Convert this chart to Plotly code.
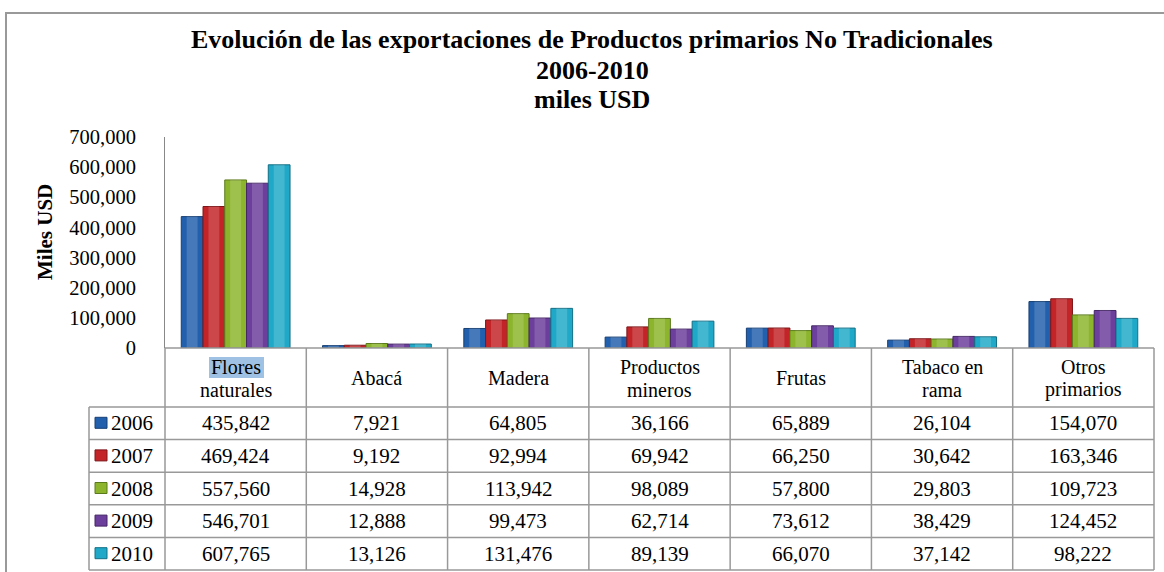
import plotly.graph_objects as go

categories = ["Flores naturales", "Abacá", "Madera", "Productos mineros", "Frutas", "Tabaco en rama", "Otros primarios"]
category_lines = [["Flores", "naturales"], ["Abacá"], ["Madera"], ["Productos", "mineros"], ["Frutas"], ["Tabaco en", "rama"], ["Otros", "primarios"]]
years = ["2006", "2007", "2008", "2009", "2010"]
v2006 = [435842, 7921, 64805, 36166, 65889, 26104, 154070]
v2007 = [469424, 9192, 92994, 69942, 66250, 30642, 163346]
v2008 = [557560, 14928, 113942, 98089, 57800, 29803, 109723]
v2009 = [546701, 12888, 99473, 62714, 73612, 38429, 124452]
v2010 = [607765, 13126, 131476, 89139, 66070, 37142, 98222]
series = [v2006, v2007, v2008, v2009, v2010]
y_ticks = [0, 100000, 200000, 300000, 400000, 500000, 600000, 700000]
title_lines = ["Evolución de las exportaciones de Productos primarios No Tradicionales", "2006-2010", "miles USD"]
y_title = "Miles USD"

colors = ["#2260ad", "#c22428", "#8cb52d", "#6c3f9c", "#1fa8c8"]
edges = ["#163f73", "#7e1619", "#5b7a1c", "#452766", "#136e84"]

W, H = 1164, 572
def px(x): return x / W
def py(y): return 1 - y / H

FONT = "Liberation Serif"
X0, X1 = 165, 1154
Y_TOP, Y_ZERO = 137, 348

GROUP = 0.77
BW = GROUP / len(years)

fig = go.Figure()
for i, (yr, vals, c, e) in enumerate(zip(years, series, colors, edges)):
    off = -GROUP / 2 + i * BW
    fig.add_trace(go.Bar(x=categories, y=vals, name=yr, width=BW, offset=off,
                         marker=dict(color=c, line=dict(color=e, width=1)), showlegend=False))
    # soft highlight to suggest the rounded 3D look
    fig.add_trace(go.Bar(x=categories, y=vals, name=yr, width=BW * 0.5, offset=off + BW * 0.25,
                         marker=dict(color="rgba(255,255,255,0.16)", line=dict(width=0)),
                         showlegend=False, hoverinfo="skip"))

fig.update_layout(
    width=W, height=H, autosize=False,
    margin=dict(l=0, r=0, t=0, b=0, pad=0, autoexpand=False),
    paper_bgcolor="white", plot_bgcolor="white", showlegend=False,
    barmode="overlay",
    font=dict(family=FONT, color="#000", size=16),
    xaxis=dict(domain=[px(X0), px(X1)], showticklabels=False, showline=False, ticks="", automargin=False,
               showgrid=False, zeroline=False, categoryorder="array", categoryarray=categories),
    yaxis=dict(domain=[py(Y_ZERO), py(Y_TOP)], range=[0, 700000], tickvals=y_ticks, automargin=False,
               tickformat=",d", showgrid=False, zeroline=False, showline=True,
               linecolor="#888", linewidth=1, ticks="", ticklabelstandoff=24,
               tickfont=dict(family=FONT, size=20.5, color="#000")),
)

shapes = []
ann = []
line = dict(color="#999", width=1.5)
# outer frame
shapes.append(dict(type="rect", xref="paper", yref="paper", x0=px(6), x1=px(1175), y0=py(13), y1=py(590),
                   line=dict(color="#999", width=2), fillcolor="rgba(0,0,0,0)", layer="below"))

# title lines
for k, (t, yy) in enumerate(zip(title_lines, [40, 70, 100])):
    ann.append(dict(xref="paper", yref="paper", x=px(592), y=py(yy), text=f"<b>{t}</b>", showarrow=False,
                    xanchor="center", yanchor="middle", font=dict(family=FONT, size=26, color="#000")))
# y axis title
ann.append(dict(xref="paper", yref="paper", x=px(45), y=py(232), text=f"<b>{y_title}</b>", showarrow=False,
                textangle=-90, xanchor="center", yanchor="middle", font=dict(family=FONT, size=21, color="#000")))

# table geometry
col_w = (X1 - X0) / len(categories)
row_top = 407
row_h = (570 - 407) / len(years)
LEG_X = 89
shapes.append(dict(type="line", xref="paper", yref="paper", x0=px(X0), x1=px(X1), y0=py(Y_ZERO), y1=py(Y_ZERO), line=line))
for i in range(len(years) + 1):
    yy = row_top + i * row_h
    shapes.append(dict(type="line", xref="paper", yref="paper", x0=px(LEG_X), x1=px(X1), y0=py(yy), y1=py(yy), line=line))
for j in range(len(categories) + 1):
    xx = X0 + j * col_w
    shapes.append(dict(type="line", xref="paper", yref="paper", x0=px(xx), x1=px(xx), y0=py(Y_ZERO), y1=py(570), line=line))
shapes.append(dict(type="line", xref="paper", yref="paper", x0=px(LEG_X), x1=px(LEG_X), y0=py(row_top), y1=py(570), line=line))

# highlight behind "Flores"
shapes.append(dict(type="rect", xref="paper", yref="paper", x0=px(209), x1=px(264), y0=py(357), y1=py(378),
                   fillcolor="#9fc2e4", line=dict(width=0), layer="below"))

# header labels
for j, lines in enumerate(category_lines):
    cx = X0 + (j + 0.5) * col_w
    ys = [378] if len(lines) == 1 else [367, 390]
    for t, yy in zip(lines, ys):
        ann.append(dict(xref="paper", yref="paper", x=px(cx), y=py(yy), text=t,
                        showarrow=False, xanchor="center", yanchor="middle",
                        font=dict(family=FONT, size=20, color="#000")))

# rows
for i, (yr, vals) in enumerate(zip(years, series)):
    cy = row_top + (i + 0.5) * row_h
    shapes.append(dict(type="rect", xref="paper", yref="paper", x0=px(95), x1=px(107), y0=py(cy - 6), y1=py(cy + 5),
                       fillcolor=colors[i], line=dict(color=edges[i], width=1)))
    ann.append(dict(xref="paper", yref="paper", x=px(109), y=py(cy), text=yr, showarrow=False,
                    xanchor="left", yanchor="middle", font=dict(family=FONT, size=21, color="#000")))
    for j, v in enumerate(vals):
        cx = X0 + (j + 0.5) * col_w
        ann.append(dict(xref="paper", yref="paper", x=px(cx), y=py(cy), text=f"{v:,}", showarrow=False,
                        xanchor="center", yanchor="middle", font=dict(family=FONT, size=21, color="#000")))

fig.update_layout(shapes=shapes, annotations=ann)
fig.write_html("out.html", config={"displayModeBar": False},
               post_script="document.body.style.margin='0';document.body.style.overflow='hidden';")
